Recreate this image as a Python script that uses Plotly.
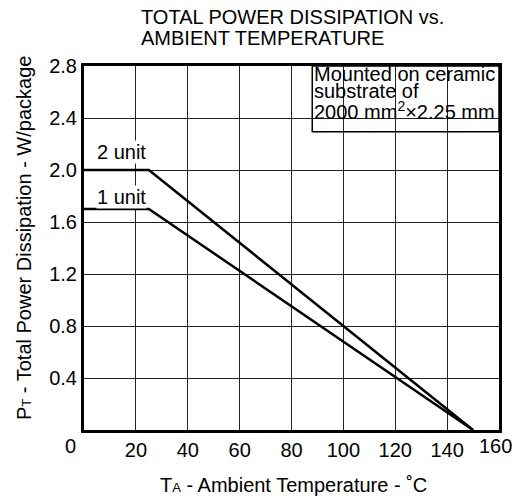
import plotly.graph_objects as go

# ---- data ----
temp_2unit = [0, 25, 150]
power_2unit = [2.0, 2.0, 0.0]
temp_1unit = [0, 25, 150]
power_1unit = [1.7, 1.7, 0.0]
series_names = ["2 unit", "1 unit"]
x_tickvals = [20, 40, 60, 80, 100, 120, 140]
x_ticktext = ["20", "40", "60", "80", "100", "120", "140"]
y_tickvals = [0.4, 0.8, 1.2, 1.6, 2.0, 2.4, 2.8]
y_ticktext = ["0.4", "0.8", "1.2", "1.6", "2.0", "2.4", "2.8"]

FONT = "Liberation Sans, Arial, Helvetica, sans-serif"
FS = 20

L, R, T, B = 84, 32, 66, 69
W, H = 531, 499
PW, PH = W - L - R, H - T - B

def px2paper_x(px):
    return (px - L) / PW

def px2paper_y(py):
    return (H - B - py) / PH

fig = go.Figure()
fig.add_trace(go.Scatter(x=temp_2unit, y=power_2unit, mode="lines",
                         line=dict(color="black", width=2.5), name=series_names[0],
                         showlegend=False))
fig.add_trace(go.Scatter(x=temp_1unit, y=power_1unit, mode="lines",
                         line=dict(color="black", width=2.5), name=series_names[1],
                         showlegend=False))

# note box (white, covers grid)
fig.add_shape(type="rect", xref="x", yref="y", x0=88, x1=160, y0=2.295, y1=2.8,
              fillcolor="white", line=dict(color="black", width=1.5), layer="below")

ann = []
box_lines = ["Mounted on ceramic", "substrate of", "2000 mm<sup>2</sup>×2.25 mm"]
box_centers = [74, 91, 110]
for txt, cy in zip(box_lines, box_centers):
    ann.append(dict(text=txt, xref="paper", yref="paper", x=px2paper_x(313), y=px2paper_y(cy),
                    xanchor="left", yanchor="middle", showarrow=False,
                    font=dict(family=FONT, size=FS, color="black"), borderpad=0))

# series labels
ann.append(dict(text=series_names[0], xref="x", yref="y", x=4.5, y=2.14, xanchor="left",
                yanchor="middle", showarrow=False, bgcolor="white", borderpad=0,
                font=dict(family=FONT, size=FS, color="black")))
ann.append(dict(text=series_names[1], xref="x", yref="y", x=4.5, y=1.79, xanchor="left",
                yanchor="middle", showarrow=False, bgcolor="white", borderpad=0,
                font=dict(family=FONT, size=FS, color="black")))

# title lines
for txt, cy in zip(["TOTAL POWER DISSIPATION vs.", "AMBIENT TEMPERATURE"], [17, 38]):
    ann.append(dict(text=txt, xref="paper", yref="paper", x=px2paper_x(139), y=px2paper_y(cy),
                    xanchor="left", yanchor="middle", showarrow=False,
                    font=dict(family=FONT, size=FS, color="black")))

# origin and end tick labels
ann.append(dict(text="0", xref="paper", yref="paper", x=px2paper_x(70), y=px2paper_y(446),
                xanchor="center", yanchor="middle", showarrow=False,
                font=dict(family=FONT, size=FS, color="black")))
ann.append(dict(text="160", xref="paper", yref="paper", x=px2paper_x(495), y=px2paper_y(446),
                xanchor="center", yanchor="middle", showarrow=False,
                font=dict(family=FONT, size=FS, color="black")))

# axis titles
ann.append(dict(text="T<span style='font-size:13px'>A</span> - Ambient Temperature - ˚C",
                xref="paper", yref="paper", x=px2paper_x(293), y=px2paper_y(485),
                xanchor="center", yanchor="middle", showarrow=False,
                font=dict(family=FONT, size=FS, color="black")))
ann.append(dict(text="P<span style='font-size:13px'>T</span> - Total Power Dissipation - W/package",
                xref="paper", yref="paper", x=px2paper_x(24), y=px2paper_y(238),
                xanchor="center", yanchor="middle", showarrow=False, textangle=-90,
                font=dict(family=FONT, size=FS, color="black")))

fig.update_layout(
    width=W, height=H,
    margin=dict(l=L, r=R, t=T, b=B, pad=0),
    paper_bgcolor="white", plot_bgcolor="white",
    font=dict(family=FONT, size=FS, color="black"),
    annotations=ann,
    showlegend=False,
)
fig.update_xaxes(range=[0, 160], tickvals=x_tickvals, ticktext=x_ticktext,
                 showgrid=True, gridcolor="#222", gridwidth=1,
                 showline=True, linecolor="black", linewidth=3, mirror=True,
                 ticks="", zeroline=False, tickfont=dict(family=FONT, size=FS, color="black"),
                 ticklabelstandoff=0)
fig.update_yaxes(range=[0, 2.8], tickvals=y_tickvals, ticktext=y_ticktext,
                 showgrid=True, gridcolor="#222", gridwidth=1,
                 showline=True, linecolor="black", linewidth=3, mirror=True,
                 ticks="", zeroline=False, tickfont=dict(family=FONT, size=FS, color="black"),
                 ticklabelstandoff=0)

fig.write_html("out.html")
